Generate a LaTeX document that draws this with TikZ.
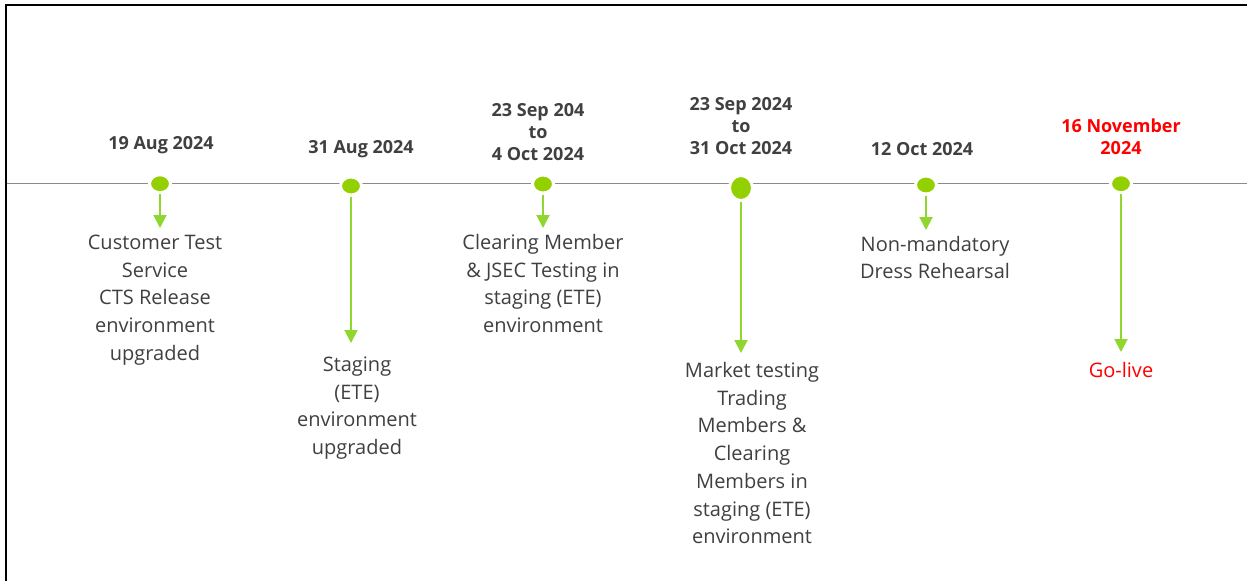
\documentclass[tikz,border=0pt]{standalone}
\usepackage{fontspec}
\setmainfont{Open Sans}
\usetikzlibrary{arrows.meta,shapes.geometric}
\definecolor{tgray}{HTML}{404040}
\definecolor{dotgreen}{HTML}{92D000}
\definecolor{arrgreen}{HTML}{8FD62F}
\definecolor{lgray}{HTML}{8A8A8A}
\definecolor{golive}{HTML}{FF0000}
\begin{document}
\begin{tikzpicture}[x=1pt,y=-1pt,
  dot/.style={ellipse, fill=dotgreen, draw=white, line width=3pt, minimum width=21pt, minimum height=18pt, inner sep=0pt},
  bigdot/.style={dot, minimum width=23pt, minimum height=25pt},
  arr/.style={draw=arrgreen, line width=2pt, -{Triangle[width=13pt,length=13pt]}},
  body/.style={font=\fontsize{20}{27.75}\selectfont, text=tgray, align=center, inner sep=0pt},
  date/.style={font=\bfseries\fontsize{18}{22}\selectfont, text=tgray, align=center, inner sep=0pt},
  tline/.style={draw=lgray, line width=1.4pt},
  frame/.style={draw=black, line width=2.3pt}]
\useasboundingbox (0,0) rectangle (1247,581);
\fill[white] (0,0) rectangle (1247,581);
% frame
\draw[frame] (6.2,581) -- (6.2,5.2) -- (1247,5.2);
% timeline
\coordinate (ls) at (7,183.5);
\coordinate (le) at (1247,183.5);
\draw[tline] (ls) -- (le);
% dots
\node[dot] (d1) at (160,183.7) {};
\node[dot] (d2) at (351,186) {};
\node[dot] (d3) at (543,184) {};
\node[bigdot] (d4) at (741,188) {};
\node[dot] (d5) at (926,185) {};
\node[dot] (d6) at (1121,183.7) {};
% arrow tips
\coordinate (a1) at (160,228);
\coordinate (a2) at (351,343);
\coordinate (a3) at (543,228);
\coordinate (a4) at (741,353);
\coordinate (a5) at (926,230);
\coordinate (a6) at (1121,352);
\draw[arr] (d1) -- (a1);
\draw[arr] (d2) -- (a2);
\draw[arr] (d3) -- (a3);
\draw[arr] (d4) -- (a4);
\draw[arr] (d5) -- (a5);
\draw[arr] (d6) -- (a6);
% dates
\node[date] (l1) at (161,145) {19 Aug 2024};
\node[date] (l2) at (361,149) {31 Aug 2024};
\node[date] (l3) at (538,132) {23 Sep 204\\to\\4 Oct 2024};
\node[date] (l4) at (741,126) {23 Sep 2024\\to\\31 Oct 2024};
\node[date] (l5) at (922,149) {12 Oct 2024};
\node[date, text=golive] (l6) at (1121,137) {16 November\\2024};
% descriptions
\node[body] (t1) at (155,300) {Customer Test\\Service\\CTS Release\\environment\\upgraded};
\node[body] (t2) at (357,408) {Staging\\(ETE)\\environment\\upgraded};
\node[body] (t3) at (543,283.5) {Clearing Member\\\& JSEC Testing in\\staging (ETE)\\environment};
\node[body] (t4) at (752,453) {Market testing\\Trading\\Members \&\\Clearing\\Members in\\staging (ETE)\\environment};
\node[body] (t5) at (935,257.5) {Non-mandatory\\Dress Rehearsal};
\node[body, text=golive] (t6) at (1121,369.5) {Go-live};
\end{tikzpicture}
\end{document}
